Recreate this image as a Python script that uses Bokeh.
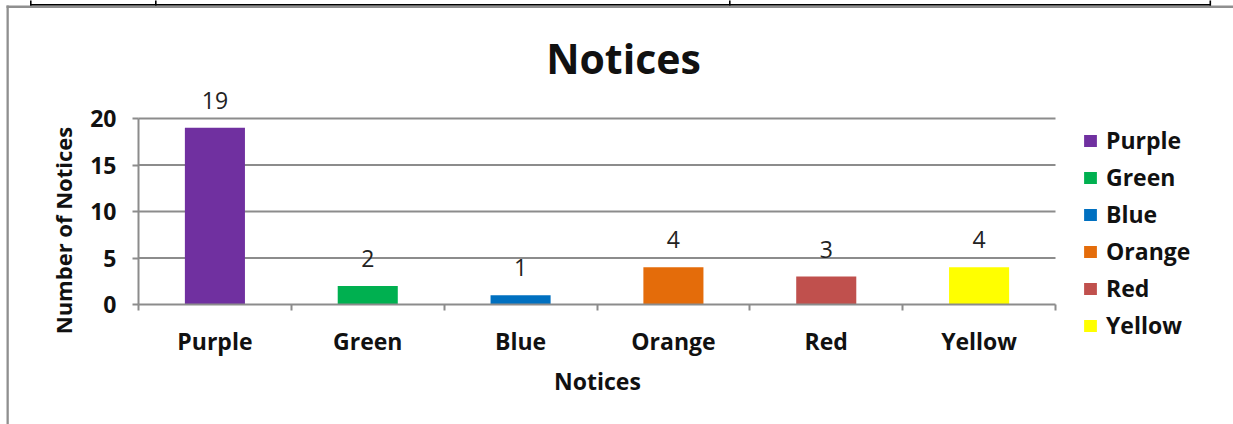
import math
from bokeh.plotting import figure
from bokeh.models import (ColumnDataSource, Range1d, LinearAxis,
                          FixedTicker, LabelSet, Label, BoxAnnotation)
from bokeh.core.properties import value
from bokeh.embed import file_html
from bokeh.resources import INLINE

# ---- data ----
categories = ["Purple", "Green", "Blue", "Orange", "Red", "Yellow"]
counts = [19, 2, 1, 4, 3, 4]
colors = ["#7030A0", "#00B050", "#0070C0", "#E46C0A", "#C0504D", "#FFFF00"]
y_ticks = [0, 5, 10, 15, 20]
title_text = "Notices"
x_title = "Notices"
y_title = "Number of Notices"

# ---- styling / layout ----
FONT = "Open Sans"
GRID = "#8c8c8c"
TXT = "#111111"
W, H = 1233, 424
PLOT_L, PLOT_R = 138, 1055      # plot-area left / right edge (px)
PLOT_B, PLOT_T = 304, 118       # plot-area bottom / top edge (px from top)

n = len(categories)
ymax = y_ticks[-1]
ux = (PLOT_R - PLOT_L) / n
uy = (PLOT_B - PLOT_T) / ymax

centres = [i + 0.5 for i in range(n)]
bounds = list(range(n + 1))

source = ColumnDataSource(dict(x=centres, cat=categories, n=counts, color=colors,
                               label=[str(v) for v in counts]))

p = figure(width=W, height=H, title=None,
           x_range=Range1d(-PLOT_L / ux, n + (W - PLOT_R) / ux),
           y_range=Range1d(-(H - PLOT_B) / uy, ymax + PLOT_T / uy),
           output_backend="svg", toolbar_location=None,
           x_axis_location=None, y_axis_location=None, min_border=0)
p.outline_line_color = None
p.background_fill_color = "white"
p.border_fill_color = "white"
p.xgrid.visible = False
p.ygrid.visible = False

# horizontal gridlines (plot area only)
p.segment(x0=0, x1=n, y0=y_ticks[1:], y1=y_ticks[1:], line_color=GRID, line_width=2)

# y axis
ya = LinearAxis(fixed_location=0, bounds=(0, ymax), ticker=FixedTicker(ticks=y_ticks),
                axis_line_color=GRID, axis_line_width=2,
                major_tick_line_color=GRID, major_tick_line_width=2,
                major_tick_in=0, major_tick_out=6, minor_tick_line_color=None,
                major_label_text_font=FONT, major_label_text_font_size="23px",
                major_label_text_font_style="bold", major_label_text_color=TXT,
                major_label_standoff=16)
p.add_layout(ya, "left")

# x axis: ticks at category boundaries
xt = LinearAxis(fixed_location=0, bounds=(0, n), ticker=FixedTicker(ticks=bounds),
                major_label_text_alpha=0, major_label_text_font_size="1px",
                major_tick_in=0, major_tick_out=6, minor_tick_line_color=None,
                axis_line_color=GRID, axis_line_width=2,
                major_tick_line_color=GRID, major_tick_line_width=2)
p.add_layout(xt, "below")

# x axis: category names at centres
xl = LinearAxis(fixed_location=0, ticker=FixedTicker(ticks=centres),
                major_label_overrides={c: name for c, name in zip(centres, categories)},
                axis_line_color=None, major_tick_line_color=None, minor_tick_line_color=None,
                major_tick_in=0, major_tick_out=0,
                major_label_text_font=FONT, major_label_text_font_size="23px",
                major_label_text_font_style="bold", major_label_text_color=TXT,
                major_label_standoff=20)
p.add_layout(xl, "below")

# bars
p.vbar(x="x", top="n", width=0.393, fill_color="color", line_color=None,
       source=source, legend_field="cat")

# data labels
p.add_layout(LabelSet(x="x", y="n", text="label", y_offset=19, source=source,
                      text_align="center", text_baseline="alphabetic",
                      text_font=value(FONT), text_font_size="23px", text_color="#222222"))

# chart title and axis titles
p.add_layout(Label(x=623, y=H - 57, x_units="screen", y_units="screen", text=title_text,
                   text_align="center", text_baseline="middle",
                   text_font=FONT, text_font_size="41px", text_font_style="bold",
                   text_color=TXT))
p.add_layout(Label(x=597, y=H - 380, x_units="screen", y_units="screen", text=x_title,
                   text_align="center", text_baseline="middle",
                   text_font=FONT, text_font_size="23px", text_font_style="bold",
                   text_color=TXT))
p.add_layout(Label(x=62, y=H - 230, x_units="screen", y_units="screen", text=y_title,
                   angle=math.pi / 2, text_align="center", text_baseline="middle",
                   text_font=FONT, text_font_size="22px", text_font_style="bold",
                   text_color=TXT))

# legend
lg = p.legend[0]
lg.location = (1082, H - 341)
lg.border_line_color = None
lg.background_fill_alpha = 0
lg.padding = 0
lg.margin = 0
lg.glyph_width = 16
lg.glyph_height = 15
lg.label_standoff = 8
lg.label_height = 31
lg.spacing = 5
lg.label_text_font = FONT
lg.label_text_font_size = "23px"
lg.label_text_font_style = "bold"
lg.label_text_color = TXT
lg.label_text_baseline = "middle"

# surrounding chart-area border (top / left) and table rule above it
BORDER = "#8f8f8f"
p.add_layout(BoxAnnotation(left=6, right=W + 10, top=H - 5, bottom=H - 7.5,
                           left_units="screen", right_units="screen",
                           top_units="screen", bottom_units="screen",
                           fill_color=BORDER, fill_alpha=1, line_color=None))
p.add_layout(BoxAnnotation(left=6, right=8.3, top=H - 5, bottom=-10,
                           left_units="screen", right_units="screen",
                           top_units="screen", bottom_units="screen",
                           fill_color=BORDER, fill_alpha=1, line_color=None))
p.add_layout(BoxAnnotation(left=29.5, right=1210.5, top=H - 3.5, bottom=H - 5,
                           left_units="screen", right_units="screen",
                           top_units="screen", bottom_units="screen",
                           fill_color="black", fill_alpha=1, line_color=None))
for xv in (29.5, 154.5, 728.5, 1209):
    p.add_layout(BoxAnnotation(left=xv, right=xv + 1.6, top=H + 5, bottom=H - 5,
                               left_units="screen", right_units="screen",
                               top_units="screen", bottom_units="screen",
                               fill_color="black", fill_alpha=1, line_color=None))

open("out.html", "w").write(file_html(p, INLINE))
